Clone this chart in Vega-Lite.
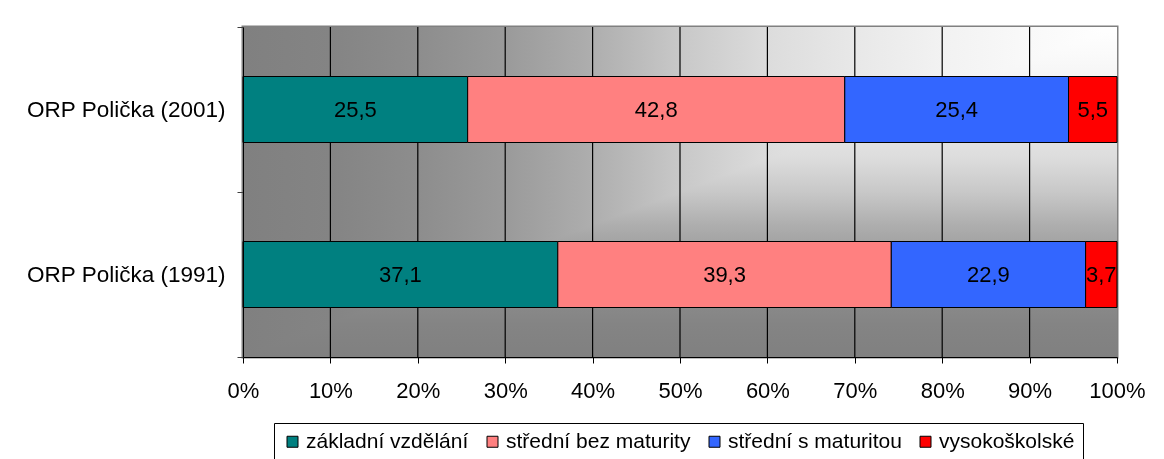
{
  "$schema": "https://vega.github.io/schema/vega-lite/v6.json",
  "width": 874,
  "height": 330,
  "autosize": {"type": "none"},
  "padding": {"left": 243, "top": 27, "right": 47, "bottom": 102},
  "data": {"name": "podily"},
  "datasets": {
    "podily": [
      {"oblast": "ORP Polička (2001)", "vzdelani": "základní vzdělání", "podil": 25.5},
      {"oblast": "ORP Polička (2001)", "vzdelani": "střední bez maturity", "podil": 42.8},
      {"oblast": "ORP Polička (2001)", "vzdelani": "střední s maturitou", "podil": 25.4},
      {"oblast": "ORP Polička (2001)", "vzdelani": "vysokoškolské", "podil": 5.5},
      {"oblast": "ORP Polička (1991)", "vzdelani": "základní vzdělání", "podil": 37.1},
      {"oblast": "ORP Polička (1991)", "vzdelani": "střední bez maturity", "podil": 39.3},
      {"oblast": "ORP Polička (1991)", "vzdelani": "střední s maturitou", "podil": 22.9},
      {"oblast": "ORP Polička (1991)", "vzdelani": "vysokoškolské", "podil": 3.7}
    ]
  },
  "layer": [
    {
      "transform": [{"aggregate": [{"op": "count", "as": "n"}]}],
      "layer": [
        {
          "mark": {
            "type": "rect",
            "color": {
              "gradient": "linear", "x1": 0, "y1": 0, "x2": 1, "y2": 0,
              "stops": [
                {"offset": 0, "color": "#808080"},
                {"offset": 0.1, "color": "#848484"},
                {"offset": 0.2, "color": "#8d8d8d"},
                {"offset": 0.3, "color": "#9a9a9a"},
                {"offset": 0.4, "color": "#aeaeae"},
                {"offset": 0.5, "color": "#c8c8c8"},
                {"offset": 0.6, "color": "#dcdcdc"},
                {"offset": 0.7, "color": "#e8e8e8"},
                {"offset": 0.8, "color": "#f2f2f2"},
                {"offset": 0.9, "color": "#f9f9f9"},
                {"offset": 1, "color": "#ffffff"}
              ]
            }
          },
          "encoding": {"x": {"datum": 0}, "x2": {"datum": 1}}
        },
        {
          "mark": {
            "type": "rect",
            "blend": "darken",
            "color": {
              "gradient": "linear", "x1": 0, "y1": 1, "x2": 0, "y2": 0,
              "stops": [
                {"offset": 0, "color": "#808080"},
                {"offset": 0.1, "color": "#848484"},
                {"offset": 0.2, "color": "#8d8d8d"},
                {"offset": 0.3, "color": "#9a9a9a"},
                {"offset": 0.4, "color": "#aeaeae"},
                {"offset": 0.5, "color": "#c8c8c8"},
                {"offset": 0.6, "color": "#dcdcdc"},
                {"offset": 0.7, "color": "#e8e8e8"},
                {"offset": 0.8, "color": "#f2f2f2"},
                {"offset": 0.9, "color": "#f9f9f9"},
                {"offset": 1, "color": "#ffffff"}
              ]
            }
          },
          "encoding": {"x": {"datum": 0}, "x2": {"datum": 1}}
        },
        {"mark": {"type": "rule", "color": "#000", "strokeWidth": 1.2}, "encoding": {"x": {"datum": 0.1}}},
        {"mark": {"type": "rule", "color": "#000", "strokeWidth": 1.2}, "encoding": {"x": {"datum": 0.2}}},
        {"mark": {"type": "rule", "color": "#000", "strokeWidth": 1.2}, "encoding": {"x": {"datum": 0.3}}},
        {"mark": {"type": "rule", "color": "#000", "strokeWidth": 1.2}, "encoding": {"x": {"datum": 0.4}}},
        {"mark": {"type": "rule", "color": "#000", "strokeWidth": 1.2}, "encoding": {"x": {"datum": 0.5}}},
        {"mark": {"type": "rule", "color": "#000", "strokeWidth": 1.2}, "encoding": {"x": {"datum": 0.6}}},
        {"mark": {"type": "rule", "color": "#000", "strokeWidth": 1.2}, "encoding": {"x": {"datum": 0.7}}},
        {"mark": {"type": "rule", "color": "#000", "strokeWidth": 1.2}, "encoding": {"x": {"datum": 0.8}}},
        {"mark": {"type": "rule", "color": "#000", "strokeWidth": 1.2}, "encoding": {"x": {"datum": 0.9}}}
      ]
    },
    {
      "transform": [
        {"calculate": "indexof(['základní vzdělání','střední bez maturity','střední s maturitou','vysokoškolské'], datum.vzdelani)", "as": "poradi"},
        {"stack": "podil", "groupby": ["oblast"], "sort": [{"field": "poradi", "order": "ascending"}], "offset": "normalize", "as": ["x0", "x1"]},
        {"calculate": "(datum.x0 + datum.x1) / 2", "as": "xm"}
      ],
      "layer": [
        {
          "mark": {"type": "bar", "height": {"band": 0.4}, "stroke": "#000", "strokeWidth": 1, "opacity": 1},
          "encoding": {
            "x": {
              "field": "x0", "type": "quantitative",
              "scale": {"domain": [0, 1], "nice": false, "zero": true},
              "axis": {
                "title": null, "format": ".0%",
                "values": [0, 0.1, 0.2, 0.3, 0.4, 0.5, 0.6, 0.7, 0.8, 0.9, 1],
                "grid": false, "tickSize": 6, "tickColor": "#000", "domainColor": "#000",
                "labelFontSize": 22, "labelPadding": 17, "labelColor": "#000",
                "labelFlush": false, "labelOverlap": false, "labelBound": false, "zindex": 1
              }
            },
            "x2": {"field": "x1"},
            "y": {
              "field": "oblast", "type": "nominal",
              "sort": ["ORP Polička (2001)", "ORP Polička (1991)"],
              "scale": {"paddingInner": 0, "paddingOuter": 0},
              "axis": {
                "title": null, "tickBand": "extent", "tickSize": 6, "tickColor": "#404040",
                "domainColor": "#000", "labelFontSize": 22.5, "labelPadding": 12, "labelColor": "#000",
                "labelLimit": 0, "zindex": 1
              }
            },
            "color": {
              "field": "vzdelani", "type": "nominal",
              "scale": {
                "domain": ["základní vzdělání", "střední bez maturity", "střední s maturitou", "vysokoškolské"],
                "range": ["#008080", "#FF8080", "#3366FF", "#FF0000"]
              },
              "legend": {
                "orient": "none", "legendX": 31, "legendY": 396, "direction": "horizontal",
                "title": null, "labelFontSize": 21, "labelColor": "#000", "labelLimit": 0,
                "symbolType": "square",
                "symbolSize": 121, "symbolStrokeColor": "#000", "symbolStrokeWidth": 1,
                "symbolOpacity": 1, "labelOffset": 3, "columnPadding": 13, "padding": 8,
                "strokeColor": "#000", "fillColor": "#ffffff"
              }
            }
          }
        },
        {
          "mark": {"type": "text", "fontSize": 22, "color": "#000", "align": "center", "baseline": "middle"},
          "encoding": {
            "x": {"field": "xm", "type": "quantitative"},
            "y": {"field": "oblast", "type": "nominal", "sort": ["ORP Polička (2001)", "ORP Polička (1991)"]},
            "text": {"field": "podil", "type": "quantitative", "format": ".1f"}
          }
        }
      ]
    }
  ],
  "config": {
    "font": "Liberation Sans",
    "locale": {"number": {"decimal": ",", "thousands": "\u00a0", "grouping": [3], "currency": ["", "\u00a0Kč"]}},
    "view": {"stroke": "#808080", "strokeWidth": 3},
    "background": "#ffffff"
  }
}
